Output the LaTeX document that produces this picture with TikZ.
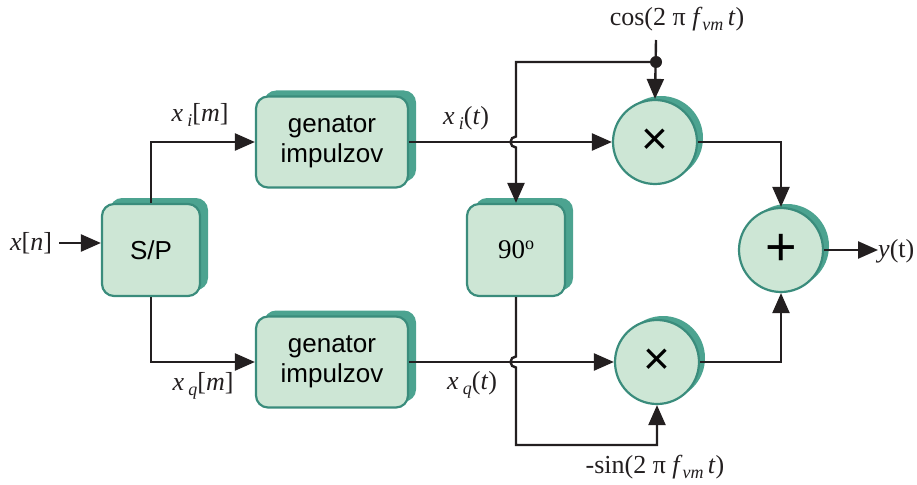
\documentclass[tikz,border=0pt]{standalone}
\usepackage{fontspec}
\setmainfont{Liberation Serif}
\newfontfamily\lsans{Liberation Sans}
\usetikzlibrary{arrows.meta,shadows,calc}
\definecolor{boxfill}{HTML}{CDE6D5}
\definecolor{boxline}{HTML}{3A8C7C}
\definecolor{shade}{HTML}{4CA390}
\definecolor{ink}{HTML}{231F20}
\newcommand\sbs[1]{\raisebox{-0.4ex}{\fontsize{18}{20}\selectfont #1}}
\begin{document}
\begin{tikzpicture}[x=1pt,y=-1pt,
  blk/.style={draw=boxline, line width=2.2pt, fill=boxfill, rounded corners=12pt,
    general shadow={fill=shade, shadow xshift=8pt, shadow yshift=6pt},
    inner sep=0pt, align=center, font=\lsans\fontsize{26}{30}\selectfont},
  opr/.style={circle, draw=boxline, line width=2.2pt, fill=boxfill, minimum size=84pt,
    general shadow={fill=shade, shadow xshift=6pt, shadow yshift=4pt},
    inner sep=0pt, font=\lsans\fontsize{46}{46}\selectfont},
  lbl/.style={inner sep=0pt, text=ink, font=\fontsize{26}{30}\selectfont},
  wire/.style={draw=ink, line width=2.4pt},
  arr/.style={wire, -{Triangle[length=20pt,width=17pt]}},
]
\useasboundingbox (0,0) rectangle (917,484);
% blocks
\node[blk, minimum width=98pt, minimum height=92pt] (sp) at (151,250) {S/P};
\node[blk, minimum width=152pt, minimum height=91pt] (g1) at (332,142) {genator\\impulzov};
\node[blk, minimum width=152pt, minimum height=91pt] (g2) at (332,362) {genator\\impulzov};
\node[blk, minimum width=98pt, minimum height=92pt, font=\fontsize{27}{30}\selectfont] (ph) at (516,250) {90\raisebox{0.75ex}{\fontsize{18}{20}\selectfont o}};
\node[opr] (m1) at (655,142) {×};
\node[opr] (m2) at (657,362) {×};
\node[opr, font=\lsans\fontsize{54}{54}\selectfont] (add) at (781,250) {+};
% labels
\node[lbl] (xn) at (31,243) {\textit{x}[\textit{n}]};
\node[lbl] (xim) at (200,115) {\textit{x}\,\sbs{\textit{i}}[\textit{m}]};
\node[lbl] (xqm) at (203,386) {\textit{x}\,\sbs{\textit{q}}[\textit{m}]};
\node[lbl] (xit) at (466,118) {\textit{x}\,\sbs{\textit{i}}(\textit{t})};
\node[lbl] (xqt) at (472,385) {\textit{x}\,\sbs{\textit{q}}(\textit{t})};
\node[lbl] (cosl) at (677,19) {cos(2 π \textit{f}\sbs{\textit{vm}}\,\textit{t})};
\node[lbl] (sinl) at (655,467) {-sin(2 π \textit{f}\sbs{\textit{vm}}\,\textit{t})};
\node[lbl, anchor=west] (yt) at (878,251) {\textit{y}(t)};
% helper coordinates
\coordinate (ctop) at (656,40);
\coordinate (dot) at (656,62);
\coordinate (lcorner) at (516,62);
\coordinate (x1) at (516,142);
\coordinate (x2) at (516,362);
\coordinate (bcorner) at (516,445);
% connectors
\draw[arr] (xn.east) ++(7,0) -- (sp.west |- xn);
\draw[arr] (sp.north) |- (g1.west);
\draw[arr] (sp.south) |- (g2.west);
\draw[arr] (g1.east) -- (m1.west);
\draw[arr] (g2.east) -- (m2.west);
\draw[arr] (ctop) -- (m1.north);
\fill[ink] (dot) circle (6pt);
\draw[arr] (dot) -- (lcorner) -- ([yshift=5.5pt]x1) arc[start angle=270, end angle=90, radius=5.5] -- (ph.north);
\draw[arr] (ph.south) -- ([yshift=5.5pt]x2) arc[start angle=270, end angle=90, radius=5.5] -- (bcorner) -| (m2.south);
\draw[arr] (m1.east) -| (add.north);
\draw[arr] (m2.east) -| (add.south);
\draw[arr] (add.east) -- (add.east -| yt.west);
\end{tikzpicture}
\end{document}
